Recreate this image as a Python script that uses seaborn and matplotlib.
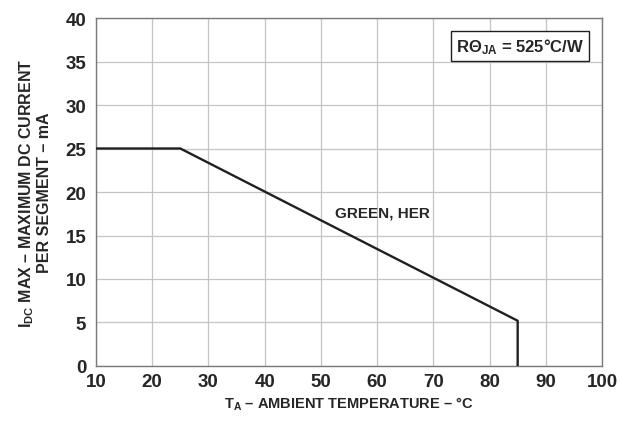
import numpy as np
import pandas as pd
import matplotlib
matplotlib.use('Agg')
import matplotlib.pyplot as plt
import seaborn as sns

# derating curve
temp_c = [10, 25, 85, 85]
current_ma = [25, 25, 5.2, 0]
curve_label = 'GREEN, HER'
x_ticks = [10, 20, 30, 40, 50, 60, 70, 80, 90, 100]
y_ticks = [0, 5, 10, 15, 20, 25, 30, 35, 40]

sns.set_style('white')
fnt = ['Liberation Sans', 'DejaVu Sans']
plt.rcParams['font.family'] = fnt
plt.rcParams['font.weight'] = 'bold'
plt.rcParams['mathtext.fontset'] = 'custom'
plt.rcParams['mathtext.rm'] = 'Liberation Sans:bold'
plt.rcParams['mathtext.it'] = 'Liberation Sans:bold'
plt.rcParams['mathtext.bf'] = 'Liberation Sans:bold'

df = pd.DataFrame({'temp': temp_c, 'current': current_ma})

fig = plt.figure(figsize=(6.21, 4.31), dpi=100)
ax = fig.add_axes([0.1546, 0.1485, 0.8148, 0.8074])

sns.lineplot(data=df, x='temp', y='current', sort=False, estimator=None,
             color='#231f20', linewidth=1.7, ax=ax, zorder=3)

ax.set_xlim(10, 100)
ax.set_ylim(0, 40)
ax.set_xticks(x_ticks)
ax.set_yticks(y_ticks)
ax.grid(True, color='#c4c4c4', linewidth=0.9)
ax.tick_params(axis='x', length=0, labelsize=13.5, pad=5)
ax.tick_params(axis='y', length=0, labelsize=13.5, pad=7)
for lab in ax.get_xticklabels() + ax.get_yticklabels():
    lab.set_fontweight('bold')
for s in ax.spines.values():
    s.set_color('#7a7a7a')
    s.set_linewidth(1.0)

ax.set_xlabel(r'T$_\mathrm{A}$ – AMBIENT TEMPERATURE – °C', fontsize=10.5,
              fontweight='bold', labelpad=3)
ax.set_ylabel('I$_\\mathrm{DC}$ MAX – MAXIMUM DC CURRENT\nPER SEGMENT – mA',
              fontsize=11.5, fontweight='bold', labelpad=10, linespacing=1.05)

ax.text(52.5, 17.7, curve_label, fontsize=11, fontweight='bold',
        ha='left', va='center')
ax.text(0.838, 0.92, r'R$\Theta_\mathrm{JA}$ = 525°C/W', transform=ax.transAxes,
        fontsize=12, fontweight='bold', ha='center', va='center',
        bbox=dict(boxstyle='square,pad=0.3', fc='white', ec='#231f20', lw=1.0))

fig.savefig('out.png', dpi=100)
